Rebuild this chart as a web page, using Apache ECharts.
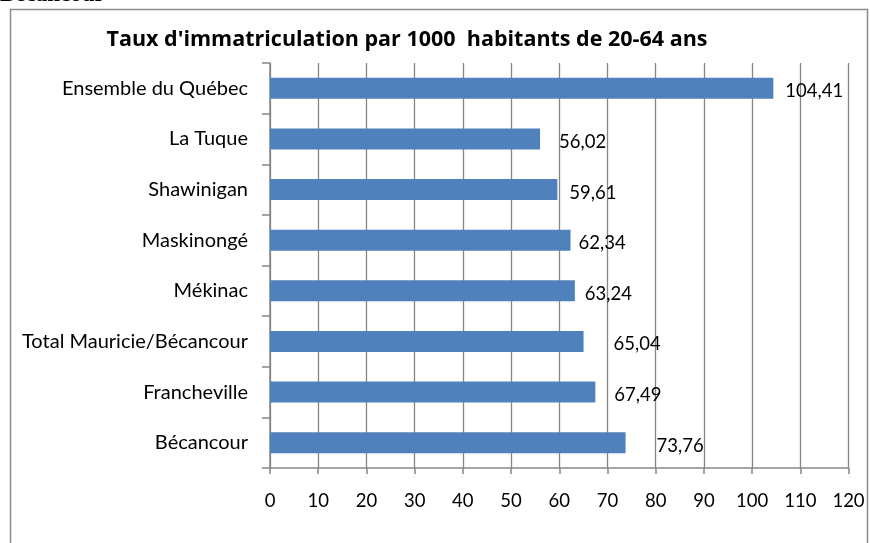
<!DOCTYPE html>
<html>
<head>
<meta charset="utf-8">
<script src="https://cdn.jsdelivr.net/npm/echarts@6/dist/echarts.min.js"></script>
<style>
  html, body { margin: 0; padding: 0; background: #fff; }
  #main { width: 870px; height: 543px; }
</style>
</head>
<body>
<div id="main"></div>
<script>
// categories, bottom to top (like Excel)
var categories = ['Bécancour', 'Francheville', 'Total Mauricie/Bécancour', 'Mékinac',
    'Maskinongé', 'Shawinigan', 'La Tuque', 'Ensemble du Québec'];
var taux = [73.76, 67.49, 65.04, 63.24, 62.34, 59.61, 56.02, 104.41];
var xTicks = [0, 10, 20, 30, 40, 50, 60, 70, 80, 90, 100, 110, 120];

// label gaps as placed in the original
var labelGap = [31, 19, 30, 10, 8, 12, 19, 12];

var chart = echarts.init(document.getElementById('main'));

var gray = '#868686';

var option = {
    animation: false,
    backgroundColor: '#fff',
    title: {
        text: "Taux d'immatriculation par 1000  habitants de 20-64 ans",
        left: 402,
        textAlign: 'center',
        top: 24,
        textStyle: { fontFamily: 'Open Sans', fontWeight: 'bold', fontSize: 21.5, color: '#000' }
    },
    graphic: [
        { type: 'rect', shape: { x: 10.5, y: 9.5, width: 857, height: 560 },
          style: { fill: 'none', stroke: '#8c8c8c', lineWidth: 1.5 } },
        { type: 'text', x: 0, y: 7,
          style: { text: 'Bécancour', font: 'bold 23px "Liberation Serif"', fill: '#000',
                   verticalAlign: 'bottom' } }
    ],
    grid: { left: 270, right: 21.5, top: 63, bottom: 75, containLabel: false },
    xAxis: {
        type: 'value',
        min: xTicks[0],
        max: xTicks[xTicks.length - 1],
        interval: 10,
        axisLine: { show: true, lineStyle: { color: gray, width: 1.5 } },
        axisTick: { show: true, length: 6, lineStyle: { color: gray, width: 1.5 } },
        splitLine: { show: true, lineStyle: { color: gray, width: 1.3 } },
        axisLabel: { margin: 24, fontFamily: 'Lato', fontSize: 18.5, color: '#000',
            formatter: function (v) { return xTicks.indexOf(v) >= 0 ? String(v) : ''; } }
    },
    yAxis: {
        type: 'category',
        data: categories,
        axisLine: { show: true, lineStyle: { color: gray, width: 1.5 } },
        axisTick: { show: true, length: 8, alignWithLabel: false, lineStyle: { color: gray, width: 1.5 } },
        axisLabel: { margin: 22, fontFamily: 'Lato', fontSize: 20, color: '#000' }
    },
    series: [{
        type: 'bar',
        barWidth: 21,
        itemStyle: { color: '#4f81bd' },
        data: taux.map(function (v, i) {
            return {
                value: v,
                label: { distance: labelGap[i] }
            };
        }),
        label: {
            show: true,
            position: 'right',
            offset: [0, 3],
            fontFamily: 'Lato',
            fontSize: 18.5,
            color: '#000',
            formatter: function (p) { return p.value.toFixed(2).replace('.', ','); }
        }
    }]
};

chart.setOption(option);
</script>
</body>
</html>
